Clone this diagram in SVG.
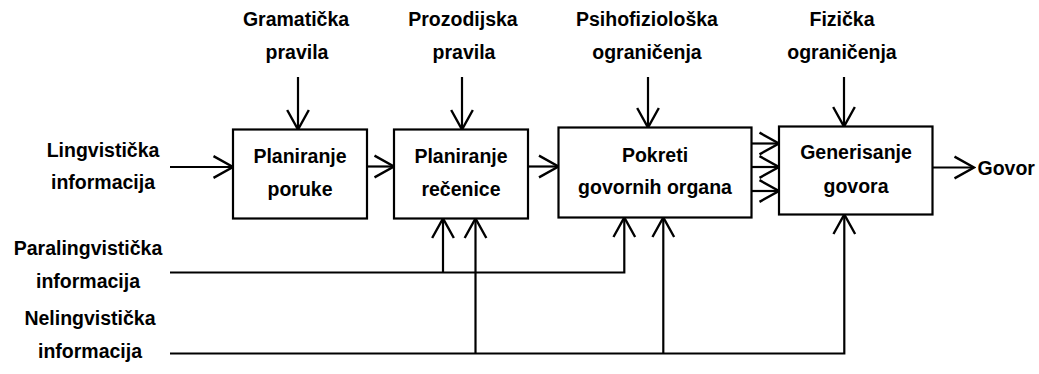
<svg xmlns="http://www.w3.org/2000/svg" width="1039" height="374" viewBox="0 0 1039 374">
  <defs>
    <style>
      text { font-family: "Liberation Sans", Arial, sans-serif; font-weight: bold; font-size: 19.5px; fill: #000; text-anchor: middle; }
      .box { fill: #fff; stroke: #000; stroke-width: 2.2; }
      .wire { fill: none; stroke: #000; stroke-width: 2.2; }
      .start { text-anchor: start; }
    </style>
    <marker id="head" markerUnits="userSpaceOnUse" markerWidth="24" markerHeight="26" viewBox="-20 -12 22 24" refX="0" refY="0" orient="auto">
      <path d="M-18,-10 L0,0 L-18,10" fill="none" stroke="#000" stroke-width="2.2"/>
    </marker>
  </defs>

  <rect width="1039" height="374" fill="#fff"/>

  <!-- connectors -->
  <g id="connectors" class="wire">
    <!-- control inputs from above -->
    <line x1="298" y1="77" x2="298" y2="129.5" marker-end="url(#head)"/>
    <line x1="462" y1="77" x2="462" y2="129.5" marker-end="url(#head)"/>
    <line x1="648" y1="77" x2="648" y2="127.5" marker-end="url(#head)"/>
    <line x1="844" y1="77" x2="844" y2="126.5" marker-end="url(#head)"/>
    <!-- main chain -->
    <line x1="170" y1="167" x2="233" y2="167" marker-end="url(#head)"/>
    <line x1="367" y1="166.5" x2="394" y2="166.5" marker-end="url(#head)"/>
    <line x1="528" y1="166.5" x2="558.5" y2="166.5" marker-end="url(#head)"/>
    <line x1="751.5" y1="143.5" x2="779" y2="143.5" marker-end="url(#head)"/>
    <line x1="751.5" y1="167" x2="779" y2="167" marker-end="url(#head)"/>
    <line x1="751.5" y1="191" x2="779" y2="191" marker-end="url(#head)"/>
    <line x1="932.5" y1="167.5" x2="974" y2="167.5" marker-end="url(#head)"/>
    <!-- paralinguistic bus -->
    <polyline points="170,272.5 624.3,272.5 624.3,217.5" marker-end="url(#head)"/>
    <line x1="443" y1="272.5" x2="443" y2="218.5" marker-end="url(#head)"/>
    <!-- non-linguistic bus -->
    <polyline points="170,353.5 844.3,353.5 844.3,214.5" marker-end="url(#head)"/>
    <line x1="475.5" y1="353.5" x2="475.5" y2="218.5" marker-end="url(#head)"/>
    <line x1="663.3" y1="353.5" x2="663.3" y2="217.5" marker-end="url(#head)"/>
  </g>

  <!-- process blocks -->
  <g id="planiranje-poruke">
    <rect class="box" x="233" y="129.5" width="134" height="89"/>
    <text x="300" y="162.5">Planiranje</text>
    <text x="300" y="196">poruke</text>
  </g>
  <g id="planiranje-recenice">
    <rect class="box" x="394" y="129.5" width="134" height="89"/>
    <text x="461" y="162.5">Planiranje</text>
    <text x="461" y="196">rečenice</text>
  </g>
  <g id="pokreti-govornih-organa">
    <rect class="box" x="558.5" y="127.5" width="193" height="90"/>
    <text x="655" y="161.5">Pokreti</text>
    <text x="655" y="194">govornih organa</text>
  </g>
  <g id="generisanje-govora">
    <rect class="box" x="779" y="126.5" width="153.5" height="88"/>
    <text x="856" y="158.5">Generisanje</text>
    <text x="856" y="193">govora</text>
  </g>

  <!-- input and output labels -->
  <g id="gramaticka-pravila">
    <text x="296" y="26">Gramatička</text>
    <text x="297" y="58.5">pravila</text>
  </g>
  <g id="prozodijska-pravila">
    <text x="463" y="26">Prozodijska</text>
    <text x="464" y="58.5">pravila</text>
  </g>
  <g id="psihofizioloska-ogranicenja">
    <text x="647" y="26">Psihofiziološka</text>
    <text x="647" y="58.5">ograničenja</text>
  </g>
  <g id="fizicka-ogranicenja">
    <text x="842" y="26">Fizička</text>
    <text x="842" y="58.5">ograničenja</text>
  </g>
  <g id="lingvisticka-informacija">
    <text x="103" y="156.5">Lingvistička</text>
    <text x="103" y="188.5">informacija</text>
  </g>
  <g id="paralingvisticka-informacija">
    <text x="88" y="255">Paralingvistička</text>
    <text x="88" y="288">informacija</text>
  </g>
  <g id="nelingvisticka-informacija">
    <text x="90" y="325">Nelingvistička</text>
    <text x="90" y="358">informacija</text>
  </g>
  <g id="govor">
    <text class="start" x="977.5" y="174.5">Govor</text>
  </g>
</svg>
